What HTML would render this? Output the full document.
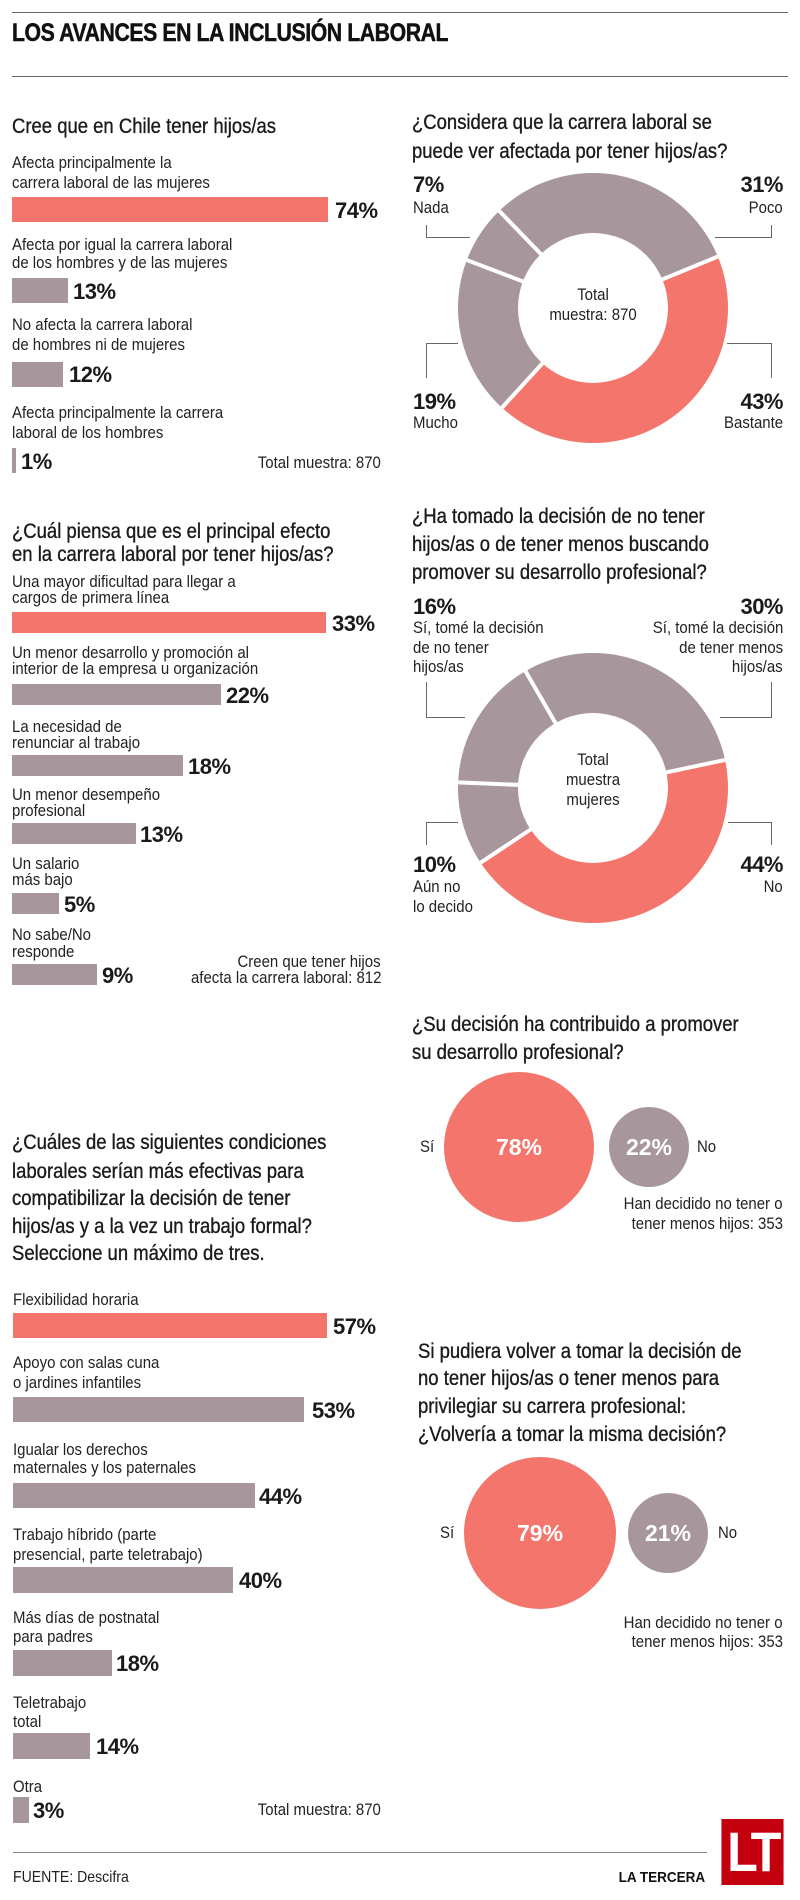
<!DOCTYPE html>
<html><head><meta charset="utf-8">
<style>
*{margin:0;padding:0;box-sizing:border-box}
body{width:800px;height:1900px;position:relative;background:#fff;font-family:"Liberation Sans",sans-serif;color:#222;overflow:hidden}
.a{position:absolute;white-space:nowrap}
.l{position:absolute;white-space:nowrap;font-size:17px;line-height:20px;transform:scaleX(.88);transform-origin:0 0}
.r{position:absolute;white-space:nowrap;font-size:17px;line-height:20px;transform:scaleX(.88);transform-origin:100% 0;text-align:right}
.c{position:absolute;white-space:nowrap;font-size:17px;line-height:20px;transform:translateX(-50%) scaleX(.88);text-align:center}
.t{position:absolute;white-space:nowrap;font-size:21px;line-height:24px;transform:scaleX(.88);transform-origin:0 0;color:#1a1a1a;-webkit-text-stroke:.35px #1a1a1a}
.p{position:absolute;white-space:nowrap;font-size:22px;line-height:24px;font-weight:bold;color:#1a1a1a;letter-spacing:-.5px}
.pr{position:absolute;white-space:nowrap;font-size:22px;line-height:24px;font-weight:bold;color:#1a1a1a;letter-spacing:-.5px;text-align:right}
.b{position:absolute;background:#a7969b}
.k{background:#f3756b}
.hl{position:absolute;height:1px;background:#666}
.vl{position:absolute;width:1px;background:#666}
.sep{position:absolute;width:4px;background:#fff;transform-origin:50% 100%}
</style></head><body>

<div class="hl" style="left:12px;top:12px;width:776px"></div>
<div class="a" style="left:12px;top:20px;font-size:25px;line-height:26px;font-weight:bold;color:#111;transform:scaleX(.85);transform-origin:0 0;letter-spacing:-.5px;-webkit-text-stroke:.5px #111">LOS AVANCES EN LA INCLUSIÓN LABORAL</div>
<div class="hl" style="left:12px;top:76px;width:776px"></div>

<!-- Chart 1 -->
<div class="t" style="left:12px;top:115px">Cree que en Chile tener hijos/as</div>
<div class="l" style="left:12px;top:153px">Afecta principalmente la</div>
<div class="l" style="left:12px;top:173px">carrera laboral de las mujeres</div>
<div class="b k" style="left:12px;top:197px;width:316px;height:25px"></div>
<div class="p" style="left:335px;top:199px">74%</div>
<div class="l" style="left:12px;top:235px">Afecta por igual la carrera laboral</div>
<div class="l" style="left:12px;top:253px">de los hombres y de las mujeres</div>
<div class="b" style="left:12px;top:278px;width:56px;height:25px"></div>
<div class="p" style="left:73px;top:280px">13%</div>
<div class="l" style="left:12px;top:315px">No afecta la carrera laboral</div>
<div class="l" style="left:12px;top:335px">de hombres ni de mujeres</div>
<div class="b" style="left:12px;top:362px;width:51px;height:25px"></div>
<div class="p" style="left:69px;top:363px">12%</div>
<div class="l" style="left:12px;top:403px">Afecta principalmente la carrera</div>
<div class="l" style="left:12px;top:423px">laboral de los hombres</div>
<div class="b" style="left:12px;top:448px;width:4px;height:25px"></div>
<div class="p" style="left:21px;top:450px">1%</div>
<div class="r" style="right:419px;top:453px">Total muestra: 870</div>

<!-- Chart 2 -->
<div class="t" style="left:12px;top:520px">¿Cuál piensa que es el principal efecto</div>
<div class="t" style="left:12px;top:543px">en la carrera laboral por tener hijos/as?</div>
<div class="l" style="left:12px;top:572px">Una mayor dificultad para llegar a</div>
<div class="l" style="left:12px;top:588px">cargos de primera línea</div>
<div class="b k" style="left:12px;top:612px;width:314px;height:21px"></div>
<div class="p" style="left:332px;top:612px">33%</div>
<div class="l" style="left:12px;top:643px">Un menor desarrollo y promoción al</div>
<div class="l" style="left:12px;top:659px">interior de la empresa u organización</div>
<div class="b" style="left:12px;top:684px;width:209px;height:21px"></div>
<div class="p" style="left:226px;top:684px">22%</div>
<div class="l" style="left:12px;top:717px">La necesidad de</div>
<div class="l" style="left:12px;top:733px">renunciar al trabajo</div>
<div class="b" style="left:12px;top:755px;width:171px;height:21px"></div>
<div class="p" style="left:188px;top:755px">18%</div>
<div class="l" style="left:12px;top:785px">Un menor desempeño</div>
<div class="l" style="left:12px;top:801px">profesional</div>
<div class="b" style="left:12px;top:823px;width:124px;height:21px"></div>
<div class="p" style="left:140px;top:823px">13%</div>
<div class="l" style="left:12px;top:854px">Un salario</div>
<div class="l" style="left:12px;top:870px">más bajo</div>
<div class="b" style="left:12px;top:893px;width:47px;height:21px"></div>
<div class="p" style="left:64px;top:893px">5%</div>
<div class="l" style="left:12px;top:925px">No sabe/No</div>
<div class="l" style="left:12px;top:942px">responde</div>
<div class="b" style="left:12px;top:964px;width:85px;height:21px"></div>
<div class="p" style="left:102px;top:964px">9%</div>
<div class="r" style="right:419px;top:952px">Creen que tener hijos</div>
<div class="r" style="right:419px;top:968px">afecta la carrera laboral: 812</div>

<!-- Chart 3 -->
<div class="t" style="left:12px;top:1131px">¿Cuáles de las siguientes condiciones</div>
<div class="t" style="left:12px;top:1160px">laborales serían más efectivas para</div>
<div class="t" style="left:12px;top:1187px">compatibilizar la decisión de tener</div>
<div class="t" style="left:12px;top:1215px">hijos/as y a la vez un trabajo formal?</div>
<div class="t" style="left:12px;top:1242px">Seleccione un máximo de tres.</div>
<div class="l" style="left:13px;top:1290px">Flexibilidad horaria</div>
<div class="b k" style="left:13px;top:1313px;width:314px;height:25px"></div>
<div class="p" style="left:333px;top:1315px">57%</div>
<div class="l" style="left:13px;top:1353px">Apoyo con salas cuna</div>
<div class="l" style="left:13px;top:1373px">o jardines infantiles</div>
<div class="b" style="left:13px;top:1397px;width:291px;height:25px"></div>
<div class="p" style="left:312px;top:1399px">53%</div>
<div class="l" style="left:13px;top:1440px">Igualar los derechos</div>
<div class="l" style="left:13px;top:1458px">maternales y los paternales</div>
<div class="b" style="left:13px;top:1483px;width:242px;height:25px"></div>
<div class="p" style="left:259px;top:1485px">44%</div>
<div class="l" style="left:13px;top:1525px">Trabajo híbrido (parte</div>
<div class="l" style="left:13px;top:1545px">presencial, parte teletrabajo)</div>
<div class="b" style="left:13px;top:1567px;width:220px;height:26px"></div>
<div class="p" style="left:239px;top:1569px">40%</div>
<div class="l" style="left:13px;top:1608px">Más días de postnatal</div>
<div class="l" style="left:13px;top:1627px">para padres</div>
<div class="b" style="left:13px;top:1650px;width:99px;height:26px"></div>
<div class="p" style="left:116px;top:1652px">18%</div>
<div class="l" style="left:13px;top:1693px">Teletrabajo</div>
<div class="l" style="left:13px;top:1712px">total</div>
<div class="b" style="left:13px;top:1733px;width:77px;height:26px"></div>
<div class="p" style="left:96px;top:1735px">14%</div>
<div class="l" style="left:13px;top:1777px">Otra</div>
<div class="b" style="left:13px;top:1797px;width:16px;height:26px"></div>
<div class="p" style="left:33px;top:1799px">3%</div>
<div class="r" style="right:419px;top:1800px">Total muestra: 870</div>

<!-- Donut 1 -->
<div class="t" style="left:412px;top:111px">¿Considera que la carrera laboral se</div>
<div class="t" style="left:412px;top:140px">puede ver afectada por tener hijos/as?</div>
<div class="a" style="left:458px;top:173px;width:270px;height:270px;border-radius:50%;background:conic-gradient(from 67.6deg,#f3756b 0 43%,#a7969b 43% 100%)"></div>
<div class="sep" style="left:591px;top:173px;height:135px;transform:rotate(67.6deg)"></div>
<div class="sep" style="left:591px;top:173px;height:135px;transform:rotate(222.4deg)"></div>
<div class="sep" style="left:591px;top:173px;height:135px;transform:rotate(290.8deg)"></div>
<div class="sep" style="left:591px;top:173px;height:135px;transform:rotate(316deg)"></div>
<div class="a" style="left:518px;top:233px;width:150px;height:150px;border-radius:50%;background:#fff"></div>
<div class="c" style="left:593px;top:285px">Total</div>
<div class="c" style="left:593px;top:305px">muestra: 870</div>
<div class="p" style="left:413px;top:173px">7%</div>
<div class="l" style="left:413px;top:198px">Nada</div>
<div class="pr" style="right:17px;top:173px">31%</div>
<div class="r" style="right:17px;top:198px">Poco</div>
<div class="p" style="left:413px;top:390px">19%</div>
<div class="l" style="left:413px;top:413px">Mucho</div>
<div class="pr" style="right:17px;top:390px">43%</div>
<div class="r" style="right:17px;top:413px">Bastante</div>
<div class="vl" style="left:426px;top:225px;height:12px"></div>
<div class="hl" style="left:426px;top:237px;width:44px"></div>
<div class="vl" style="left:771px;top:225px;height:12px"></div>
<div class="hl" style="left:715px;top:237px;width:57px"></div>
<div class="hl" style="left:426px;top:343px;width:32px"></div>
<div class="vl" style="left:426px;top:343px;height:35px"></div>
<div class="hl" style="left:727px;top:343px;width:45px"></div>
<div class="vl" style="left:771px;top:343px;height:35px"></div>

<!-- Donut 2 -->
<div class="t" style="left:412px;top:505px">¿Ha tomado la decisión de no tener</div>
<div class="t" style="left:412px;top:533px">hijos/as o de tener menos buscando</div>
<div class="t" style="left:412px;top:561px">promover su desarrollo profesional?</div>
<div class="a" style="left:458px;top:653px;width:270px;height:270px;border-radius:50%;background:conic-gradient(from 78deg,#f3756b 0 44%,#a7969b 44% 100%)"></div>
<div class="sep" style="left:591px;top:653px;height:135px;transform:rotate(78deg)"></div>
<div class="sep" style="left:591px;top:653px;height:135px;transform:rotate(236.4deg)"></div>
<div class="sep" style="left:591px;top:653px;height:135px;transform:rotate(272.4deg)"></div>
<div class="sep" style="left:591px;top:653px;height:135px;transform:rotate(330deg)"></div>
<div class="a" style="left:518px;top:713px;width:150px;height:150px;border-radius:50%;background:#fff"></div>
<div class="c" style="left:593px;top:750px">Total</div>
<div class="c" style="left:593px;top:770px">muestra</div>
<div class="c" style="left:593px;top:790px">mujeres</div>
<div class="p" style="left:413px;top:595px">16%</div>
<div class="l" style="left:413px;top:618px">Sí, tomé la decisión</div>
<div class="l" style="left:413px;top:638px">de no tener</div>
<div class="l" style="left:413px;top:657px">hijos/as</div>
<div class="pr" style="right:17px;top:595px">30%</div>
<div class="r" style="right:17px;top:618px">Sí, tomé la decisión</div>
<div class="r" style="right:17px;top:638px">de tener menos</div>
<div class="r" style="right:17px;top:657px">hijos/as</div>
<div class="p" style="left:413px;top:853px">10%</div>
<div class="l" style="left:413px;top:877px">Aún no</div>
<div class="l" style="left:413px;top:897px">lo decido</div>
<div class="pr" style="right:17px;top:853px">44%</div>
<div class="r" style="right:17px;top:877px">No</div>
<div class="vl" style="left:426px;top:682px;height:35px"></div>
<div class="hl" style="left:426px;top:717px;width:39px"></div>
<div class="vl" style="left:771px;top:682px;height:35px"></div>
<div class="hl" style="left:720px;top:717px;width:52px"></div>
<div class="hl" style="left:426px;top:822px;width:32px"></div>
<div class="vl" style="left:426px;top:822px;height:23px"></div>
<div class="hl" style="left:728px;top:822px;width:44px"></div>
<div class="vl" style="left:771px;top:822px;height:23px"></div>

<!-- Circles 1 -->
<div class="t" style="left:412px;top:1013px">¿Su decisión ha contribuido a promover</div>
<div class="t" style="left:412px;top:1041px">su desarrollo profesional?</div>
<div class="a" style="left:444px;top:1072px;width:150px;height:150px;border-radius:50%;background:#f3756b"></div>
<div class="a" style="left:609px;top:1107px;width:80px;height:80px;border-radius:50%;background:#a7969b"></div>
<div class="a" style="left:519px;top:1135px;transform:translateX(-50%);font-size:23px;line-height:24px;font-weight:bold;color:#fff">78%</div>
<div class="a" style="left:649px;top:1135px;transform:translateX(-50%);font-size:23px;line-height:24px;font-weight:bold;color:#fff">22%</div>
<div class="l" style="left:420px;top:1137px">Sí</div>
<div class="l" style="left:697px;top:1137px">No</div>
<div class="r" style="right:17px;top:1194px">Han decidido no tener o</div>
<div class="r" style="right:17px;top:1214px">tener menos hijos: 353</div>

<!-- Circles 2 -->
<div class="t" style="left:418px;top:1340px">Si pudiera volver a tomar la decisión de</div>
<div class="t" style="left:418px;top:1367px">no tener hijos/as o tener menos para</div>
<div class="t" style="left:418px;top:1395px">privilegiar su carrera profesional:</div>
<div class="t" style="left:418px;top:1423px">¿Volvería a tomar la misma decisión?</div>
<div class="a" style="left:464px;top:1457px;width:152px;height:152px;border-radius:50%;background:#f3756b"></div>
<div class="a" style="left:628px;top:1493px;width:80px;height:80px;border-radius:50%;background:#a7969b"></div>
<div class="a" style="left:540px;top:1521px;transform:translateX(-50%);font-size:23px;line-height:24px;font-weight:bold;color:#fff">79%</div>
<div class="a" style="left:668px;top:1521px;transform:translateX(-50%);font-size:23px;line-height:24px;font-weight:bold;color:#fff">21%</div>
<div class="l" style="left:440px;top:1523px">Sí</div>
<div class="l" style="left:718px;top:1523px">No</div>
<div class="r" style="right:17px;top:1613px">Han decidido no tener o</div>
<div class="r" style="right:17px;top:1632px">tener menos hijos: 353</div>

<!-- Footer -->
<div class="hl" style="left:13px;top:1852px;width:694px;background:#888"></div>
<div class="l" style="left:13px;top:1868px;font-size:16px">FUENTE: Descifra</div>
<div class="a" style="right:95px;top:1869px;font-size:15px;line-height:18px;font-weight:bold;color:#111;transform:scaleX(.9);transform-origin:100% 0">LA TERCERA</div>
<div class="a" style="left:718px;top:1819px;width:69px;height:66px;background:#c4000f;color:#fff;font-size:56px;line-height:66px;font-weight:bold;text-align:center;letter-spacing:-4px;transform:scaleX(.9)">LT</div>
</body></html>
